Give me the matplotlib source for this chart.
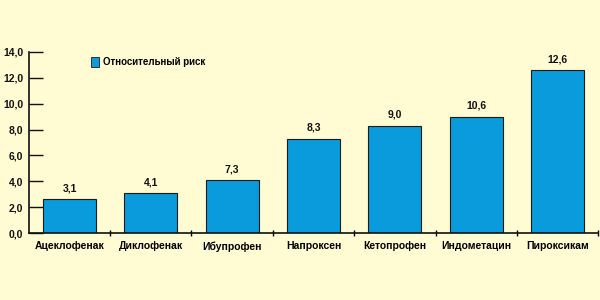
import matplotlib
matplotlib.use("Agg")
import matplotlib.pyplot as plt
from matplotlib.patches import Rectangle

# data
drugs = ["Ацеклофенак", "Диклофенак", "Ибупрофен", "Напроксен",
         "Кетопрофен", "Индометацин", "Пироксикам"]
bar_heights = [2.6, 3.1, 4.1, 7.3, 8.3, 9.0, 12.6]
bar_labels = ["3,1", "4,1", "7,3", "8,3", "9,0", "10,6", "12,6"]
y_ticks = [0, 2, 4, 6, 8, 10, 12, 14]
legend_label = "Относительный риск"

bg = "#FFFBD2"
bar_color = "#0A9BDC"
fonts = ["Liberation Sans Narrow", "Liberation Sans", "DejaVu Sans"]

plt.rcParams["font.family"] = fonts
plt.rcParams["font.weight"] = "bold"

fig = plt.figure(figsize=(6, 3), dpi=100, facecolor=bg)
ax = fig.add_axes([0.048, 0.223, 0.949, 0.604])
ax.set_facecolor(bg)

x = list(range(len(drugs)))
ax.bar(x, bar_heights, width=0.65, color=bar_color, edgecolor="#1a1a1a",
       linewidth=0.8, zorder=2)

for xi, h, lab in zip(x, bar_heights, bar_labels):
    ax.text(xi, h + 0.45, lab, ha="center", va="bottom", fontsize=7.5,
            fontweight="bold", color="#111111")

ax.set_xlim(-0.5, len(drugs) - 0.5)
ax.set_ylim(0, 14)
ax.set_yticks(y_ticks)
ax.set_yticklabels([f"{v:.1f}".replace(".", ",") for v in y_ticks],
                   fontsize=7.5, fontweight="bold")
ax.tick_params(axis="y", direction="in", length=10, width=1, pad=4,
               colors="#111111")

# category boundaries carry the x ticks, names sit in between
ax.set_xticks([i + 0.5 for i in x])
ax.set_xticklabels([])
ax.set_xticks(x, minor=True)
ax.set_xticklabels(drugs, minor=True, fontsize=7.5, fontweight="bold")
ax.tick_params(axis="x", which="major", direction="inout", length=5, width=1)
ax.tick_params(axis="x", which="minor", length=0, pad=6)

for side in ["top", "right"]:
    ax.spines[side].set_visible(False)
for side in ["left", "bottom"]:
    ax.spines[side].set_linewidth(1.2)
    ax.spines[side].set_color("#111111")

# legend
ax.add_patch(Rectangle((0.109, 0.915), 0.0135, 0.058, transform=ax.transAxes,
                       facecolor=bar_color, edgecolor="#1a1a1a", linewidth=0.6,
                       clip_on=False))
ax.text(0.13, 0.944, legend_label, transform=ax.transAxes, fontsize=7,
        fontweight="bold", va="center", ha="left")

fig.savefig("out.png", dpi=100, facecolor=bg)
